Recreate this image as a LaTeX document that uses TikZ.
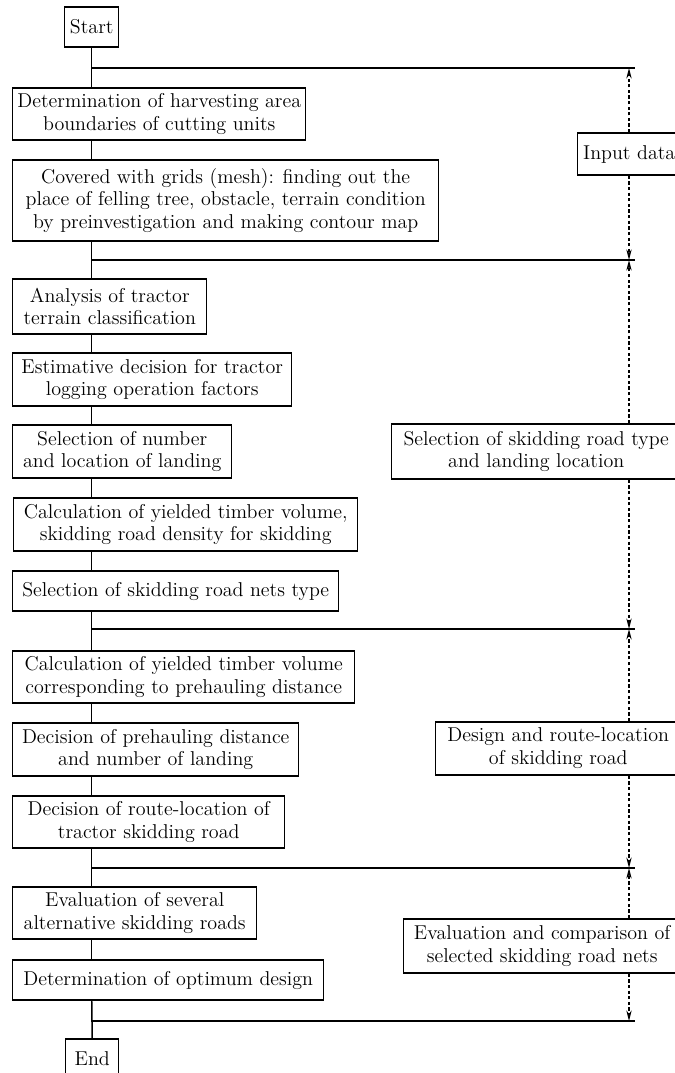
\documentclass[tikz,border=0pt]{standalone}
\usepackage{tikz}
\usetikzlibrary{arrows.meta,positioning}

\tikzset{
  box/.style={draw, rectangle, align=center, inner sep=1pt, anchor=west},
  feed/.style={dash pattern=on 1.8pt off 1.4pt, -{Stealth[length=6pt,width=3pt]}},
}

\begin{document}
\begin{tikzpicture}[x=0.02cm, y=-0.02cm, line width=0.85pt, every node/.style={font=\fontsize{11.4}{13}\selectfont}]
			\useasboundingbox (0,0) rectangle (675,1073);
			\clip (0,0) rectangle (675,1073);
			% left column
			\node[box, minimum width=1.08cm, minimum height=0.80cm] (st) at (64,27) {Start};
			\node[box, minimum width=5.86cm, minimum height=1.04cm] (n1) at (12,114) {Determination of harvesting area\\ boundaries of cutting units};
			\node[box, minimum width=8.52cm, minimum height=1.62cm] (n2) at (12,200.5) {Covered with grids (mesh): finding out the\\ place of felling tree, obstacle, terrain condition\\ by preinvestigation and making contour map};
			\node[box, minimum width=3.88cm, minimum height=1.10cm] (n3) at (12,306.5) {Analysis of tractor\\ terrain classification};
			\node[box, minimum width=5.58cm, minimum height=1.06cm] (n4) at (12,379.5) {Estimative decision for tractor\\ logging operation factors};
			\node[box, minimum width=4.38cm, minimum height=1.06cm] (n5) at (12,451.5) {Selection of number\\ and location of landing};
			\node[box, minimum width=6.88cm, minimum height=1.06cm] (n6) at (13,524.5) {Calculation of yielded timber volume,\\ skidding road density for skidding};
			\node[box, minimum width=6.52cm, minimum height=0.80cm] (n7) at (12,591) {Selection of skidding road nets type};
			\node[box, minimum width=6.84cm, minimum height=1.04cm] (n8) at (12,677) {Calculation of yielded timber volume\\ corresponding to prehauling distance};
			\node[box, minimum width=5.72cm, minimum height=1.06cm] (n9) at (12,749.5) {Decision of prehauling distance\\ and number of landing};
			\node[box, minimum width=5.44cm, minimum height=1.04cm] (n10) at (12,822) {Decision of route-location of\\ tractor skidding road};
			\node[box, minimum width=4.88cm, minimum height=1.04cm] (n11) at (12,913) {Evaluation of several\\ alternative skidding roads};
			\node[box, minimum width=6.22cm, minimum height=0.80cm] (n12) at (12,980) {Determination of optimum design};
			\node[box, minimum width=1.06cm, minimum height=0.80cm] (en) at (65,1059) {End};
			% right column
			\node[box, minimum width=2.06cm, minimum height=0.84cm] (m1) at (577,154) {Input data};
			\node[box, minimum width=5.78cm, minimum height=1.10cm] (m2) at (391,451.5) {Selection of skidding road type\\ and landing location};
			\node[box, minimum width=4.90cm, minimum height=1.06cm] (m3) at (435,748.5) {Design and route-location\\ of skidding road};
			\node[box, minimum width=5.54cm, minimum height=1.08cm] (m4) at (403,946) {Evaluation and comparison of\\ selected skidding road nets};
			% junctions
			\coordinate (j1) at (91,68);   \coordinate (k1) at (635,68);   \coordinate (a1) at (629,68);
			\coordinate (j2) at (91,260);  \coordinate (k2) at (635,260);  \coordinate (a2) at (629,260);
			\coordinate (j3) at (91,629);  \coordinate (k3) at (635,629);  \coordinate (a3) at (629,629);
			\coordinate (j4) at (91,868);  \coordinate (k4) at (635,868);  \coordinate (a4) at (629,868);
			\coordinate (j5) at (91,1021); \coordinate (k5) at (635,1021); \coordinate (a5) at (629,1021);
			\draw (j1) -- (k1);
			\draw (j2) -- (k2);
			\draw (j3) -- (k3);
			\draw (j4) -- (k4);
			\draw (j5) -- (k5);
			% main line
			\draw (st.south) -- (st.south |- n1.north);
			\draw (st.south |- n1.south) -- (st.south |- n2.north);
			\draw (st.south |- n2.south) -- (st.south |- n3.north);
			\draw (st.south |- n3.south) -- (st.south |- n4.north);
			\draw (st.south |- n4.south) -- (st.south |- n5.north);
			\draw (st.south |- n5.south) -- (st.south |- n6.north);
			\draw (st.south |- n6.south) -- (st.south |- n7.north);
			\draw (st.south |- n7.south) -- (st.south |- n8.north);
			\draw (st.south |- n8.south) -- (st.south |- n9.north);
			\draw (st.south |- n9.south) -- (st.south |- n10.north);
			\draw (st.south |- n10.south) -- (st.south |- n11.north);
			\draw (st.south |- n11.south) -- (st.south |- n12.north);
			\draw (st.south |- n12.south) -- (en.north);
			% dotted feedback arrows
			\draw[feed] (m1.north -| a1) -- (a1);
			\draw[feed] (m1.south -| a1) -- (a2);
			\draw[feed] (m2.north -| a2) -- (a2);
			\draw[feed] (m2.south -| a2) -- (a3);
			\draw[feed] (m3.north -| a3) -- (a3);
			\draw[feed] (m3.south -| a3) -- (a4);
			\draw[feed] (m4.north -| a4) -- (a4);
			\draw[feed] (m4.south -| a4) -- (a5);
		\end{tikzpicture}
\end{document}
